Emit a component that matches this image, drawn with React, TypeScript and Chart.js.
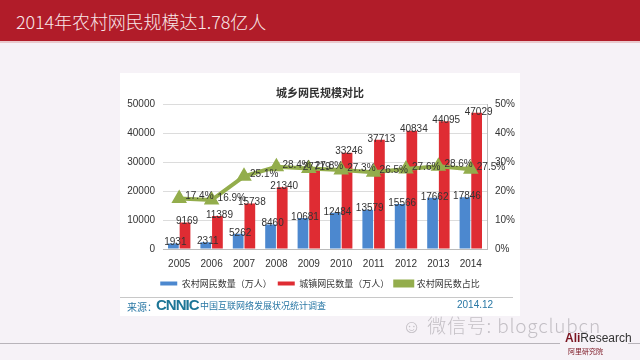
import React, { useEffect, useRef } from "react";
import { Chart, registerables } from "chart.js";

Chart.register(...registerables);

const years = ["2005", "2006", "2007", "2008", "2009", "2010", "2011", "2012", "2013", "2014"];
const ruralUsers = [1931, 2311, 5262, 8460, 10681, 12484, 13579, 15566, 17662, 17846];
const urbanUsers = [9169, 11389, 15738, 21340, 27719, 33246, 37713, 40834, 44095, 47029];
const ruralShare = [17.4, 16.9, 25.1, 28.4, 27.8, 27.3, 26.5, 27.6, 28.6, 27.5];
const seriesNames = ["农村网民数量（万人）", "城镇网民数量（万人）", "农村网民数占比"];

const CJK = '"Noto Sans CJK SC", "Noto Sans", sans-serif';
const LAT = '"Liberation Sans", Arial, sans-serif';

export default function App() {
  const ref = useRef<HTMLCanvasElement>(null);

  useEffect(() => {
    const labelPlugin = {
      id: "valueLabels",
      afterDatasetsDraw(chart: any) {
        const ctx = chart.ctx;
        ctx.save();
        ctx.font = `10px ${LAT}`;
        ctx.fillStyle = "#333";
        chart.data.datasets.forEach((ds: any, i: number) => {
          const meta = chart.getDatasetMeta(i);
          meta.data.forEach((el: any, j: number) => {
            const v = ds.data[j];
            if (ds.type === "line") {
              ctx.textAlign = "left";
              ctx.textBaseline = "middle";
              ctx.fillText(v.toFixed(1) + "%", el.x + 6, el.y - 2);
            } else {
              ctx.textAlign = "center";
              ctx.textBaseline = "bottom";
              ctx.fillText(String(v), el.x + 2, el.y + 4);
            }
          });
        });
        ctx.restore();
      },
    };

    const chart = new Chart(ref.current!, {
      type: "bar",
      data: {
        labels: years,
        datasets: [
          {
            type: "bar",
            label: seriesNames[0],
            data: ruralUsers,
            backgroundColor: "#4c88cf",
            yAxisID: "y",
            order: 2,
            categoryPercentage: 0.72,
            barPercentage: 0.92,
          } as any,
          {
            type: "bar",
            label: seriesNames[1],
            data: urbanUsers,
            backgroundColor: "#df2c33",
            yAxisID: "y",
            order: 2,
            categoryPercentage: 0.72,
            barPercentage: 0.92,
          } as any,
          {
            type: "line",
            label: seriesNames[2],
            data: ruralShare,
            yAxisID: "y1",
            borderColor: "#93ad4c",
            backgroundColor: "#93ad4c",
            borderWidth: 4,
            pointStyle: "triangle",
            pointRadius: 5,
            pointBackgroundColor: "#93ad4c",
            order: 1,
            tension: 0,
          } as any,
        ],
      },
      options: {
        animation: false,
        responsive: true,
        maintainAspectRatio: false,
        layout: { padding: { top: 4, left: 0, right: 0, bottom: 0 } },
        plugins: {
          title: {
            display: true,
            text: "城乡网民规模对比",
            color: "#333",
            font: { family: CJK, size: 11, weight: "bold" },
            padding: { top: 4, bottom: 5 },
          },
          legend: {
            position: "bottom",
            labels: {
              color: "#333",
              font: { family: CJK, size: 9 },
              boxWidth: 17,
              boxHeight: 4,
              padding: 6,
              sort: (a: any, b: any) => a.datasetIndex - b.datasetIndex,
            },
          },
          tooltip: { enabled: false },
        },
        scales: {
          x: {
            grid: { display: false, drawTicks: false },
            border: { color: "#bbb" },
            ticks: { color: "#333", font: { family: LAT, size: 10 }, padding: 9 },
            afterFit: (s: any) => { s.height = s.height - 6; },
          },
          y: {
            position: "left",
            min: 0,
            max: 50000,
            ticks: { stepSize: 10000, color: "#333", font: { family: LAT, size: 10 }, padding: 8, callback: (v: any) => String(v) },
            grid: { color: "#dcdcdc", drawTicks: false },
            border: { display: false },
            afterFit: (s: any) => { s.width = 53; },
          },
          y1: {
            position: "right",
            min: 0,
            max: 50,
            ticks: { stepSize: 10, color: "#333", font: { family: LAT, size: 10 }, padding: 8, callback: (v: any) => v + "%" },
            grid: { drawOnChartArea: false, drawTicks: false },
            border: { color: "#bbb" },
            afterFit: (s: any) => { s.width = 43; },
          },
        },
      },
      plugins: [labelPlugin],
    });
    return () => chart.destroy();
  }, []);

  return (
    <div style={{ position: "absolute", left: 0, top: 0, width: 640, height: 360, background: "#f6f2f7", overflow: "hidden", fontFamily: CJK }}>
      <div style={{ position: "absolute", left: 0, top: 0, width: 640, height: 41, background: "#b11c29" }}>
        <div style={{ position: "absolute", left: 16, top: 8, color: "#f8e6e8", fontSize: 18, fontWeight: 300, letterSpacing: -0.1, whiteSpace: "nowrap" }}>
          2014年农村网民规模达1.78亿人
        </div>
      </div>
      <div style={{ position: "absolute", left: 0, top: 41, width: 640, height: 2, background: "#e9c9cd" }} />
      <div style={{ position: "absolute", left: 120, top: 73, width: 400, height: 243, background: "#ffffff" }} />
      <div style={{ position: "absolute", left: 110, top: 78, width: 420, height: 220 }}>
        <canvas ref={ref} />
      </div>
      <div style={{ position: "absolute", left: 120, top: 297, width: 393, height: 1, background: "#c8c8c8" }} />
      <div style={{ position: "absolute", left: 127, top: 299, fontSize: 10, color: "#2a78a5", whiteSpace: "nowrap" }}>来源：</div>
      <div style={{ position: "absolute", left: 156, top: 296, fontSize: 15, fontWeight: 900, color: "#1c7596", fontFamily: LAT, letterSpacing: -1, whiteSpace: "nowrap" }}>CNNIC</div>
      <div style={{ position: "absolute", left: 200, top: 299, fontSize: 9, color: "#2a78a5", whiteSpace: "nowrap" }}>中国互联网络发展状况统计调查</div>
      <div style={{ position: "absolute", left: 457, top: 299, fontSize: 10, color: "#2a78a5", fontFamily: LAT, whiteSpace: "nowrap" }}>2014.12</div>
      <div style={{ position: "absolute", left: 402, top: 311, fontSize: 19, fontWeight: 200, color: "#c4c0c6", whiteSpace: "nowrap", letterSpacing: 0.8 }}>
        ☺ 微信号: blogclubcn
      </div>
      <div style={{ position: "absolute", left: 0, top: 343, width: 560, height: 1, background: "#b8b4ba" }} />
      <div style={{ position: "absolute", left: 628, top: 343, width: 12, height: 1, background: "#b8b4ba" }} />
      <div style={{ position: "absolute", left: 565, top: 331, fontSize: 12, fontFamily: LAT, color: "#333", whiteSpace: "nowrap" }}>
        <span style={{ fontWeight: "bold", color: "#7a1420" }}>Ali</span>Research
      </div>
      <div style={{ position: "absolute", left: 568, top: 346, fontSize: 7, color: "#7a1420", whiteSpace: "nowrap" }}>阿里研究院</div>
    </div>
  );
}
